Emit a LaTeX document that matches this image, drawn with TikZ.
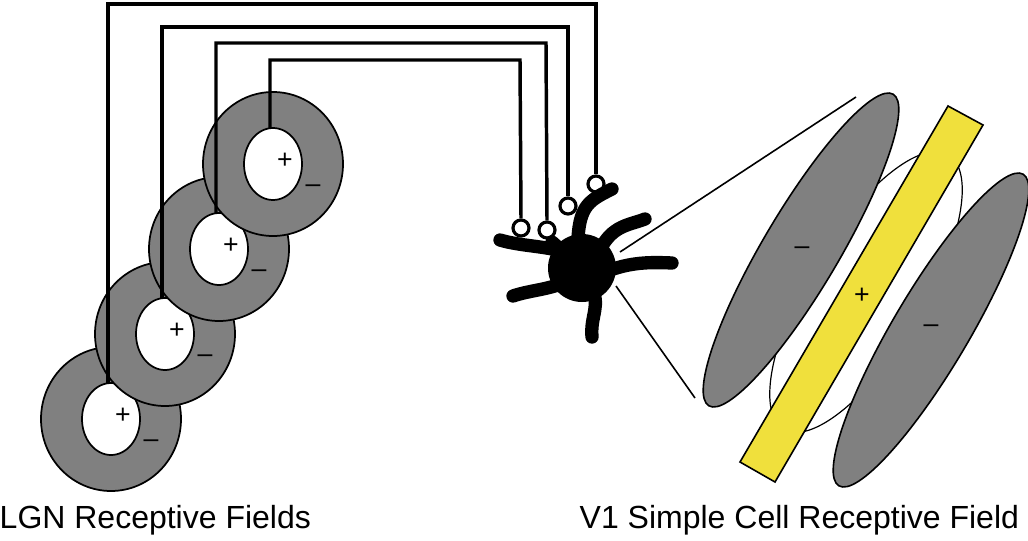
\documentclass[tikz,border=0pt]{standalone}
\usepackage{fontspec}
\setmainfont{Liberation Sans}
\begin{document}
\begin{tikzpicture}[x=0.75pt,y=-0.75pt,
  inner/.style={draw=black,line width=1.3pt,fill=white},
  wire/.style={line width=2.6pt,line join=miter},
  ring/.style={draw=black,line width=2.4pt,fill=white,circle,minimum size=12pt,inner sep=0pt},
  dend/.style={line width=10pt,line cap=round},
  sign/.style={font=\fontsize{20}{20}\selectfont},
  lab/.style={font=\fontsize{24}{24}\selectfont,anchor=west}]
\useasboundingbox (0,0) rectangle (1028,540);
\definecolor{rfgray}{RGB}{128,128,128}
\definecolor{bar}{RGB}{240,224,60}
% LGN receptive fields (bottom to top)
\foreach \cx/\cy/\n in {111/419/4,165/334/3,219/249/2,273/164/1}{
  \fill[rfgray,draw=black,line width=1.3pt] (\cx,\cy) ellipse [x radius=70,y radius=72];
  \draw[inner] (\cx,\cy) ellipse [x radius=29,y radius=36];
  \node[sign] (p\n) at (\cx+12,\cy-3) {+};
  \node[sign] (m\n) at (\cx+40,\cy+25) {--};
  \coordinate (it\n) at (\cx-3,\cy-36);
}
% rings
\node[ring] (r1) at (521,228) {};
\node[ring] (r2) at (547,230) {};
\node[ring] (r3) at (568,206) {};
\node[ring] (r4) at (596,184) {};
% wires
\draw[wire] (it1) |- (520,60) -- (r1.north);
\draw[wire] (it2) |- (546,43) -- (r2.north);
\draw[wire] (it3) |- (568,27) -- (r3.north);
\draw[wire] (it4) |- (596,4) -- (r4.north);
% neuron
\fill (582,268) circle [radius=34];
\draw[dend] (500,240) .. controls (520,246) and (545,246) .. (565,252);
\draw[dend] (612,189) .. controls (590,200) and (580,205) .. (578,238);
\draw[dend] (645,219) .. controls (630,225) and (612,225) .. (600,250);
\draw[dend] (672,263) .. controls (650,262) and (630,262) .. (605,272);
\draw[dend] (592,337) .. controls (590,315) and (602,305) .. (590,285);
\draw[dend] (513,296) .. controls (530,290) and (550,290) .. (570,280);
\draw[dend] (552,242) -- (570,258);
% projection lines
\draw[line width=1.2pt] (620,252) -- (856,97);
\draw[line width=1.2pt] (616,286) -- (695,398);
% V1 field
\draw[line width=0.9pt,fill=white] (866,292) ellipse [x radius=160,y radius=58,rotate=59];
\draw[line width=1.2pt,fill=rfgray] (801,250) ellipse [x radius=181,y radius=38,rotate=59.4];
\draw[line width=1.2pt,fill=rfgray] (931,330) ellipse [x radius=181,y radius=38,rotate=59.4];
\draw[line width=1.2pt,fill=bar] (948,106) -- (983,125) -- (775,482) -- (740,462) -- cycle;
\node[sign] (vp) at (862,296) {+};
\node[sign] (vm1) at (802,251) {--};
\node[sign] (vm2) at (931,329) {--};
% labels
\node[lab] (l1) at (-5,520) {LGN Receptive Fields};
\node[lab] (l2) at (575,520) {V1 Simple Cell Receptive Field};
\end{tikzpicture}
\end{document}
